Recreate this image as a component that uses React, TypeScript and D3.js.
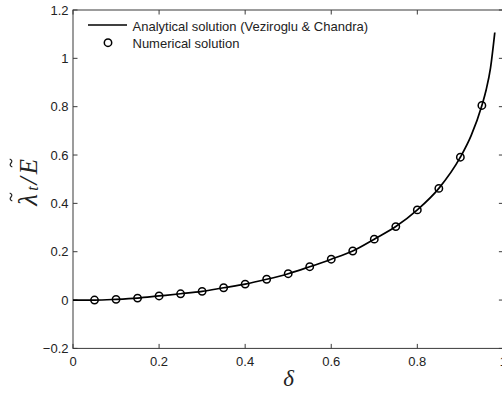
import React from "react";
import * as d3 from "d3";

const W = 502;
const H = 394;

// Numerical solution (circles)
const numDelta = [0.05, 0.1, 0.15, 0.2, 0.25, 0.3, 0.35, 0.4, 0.45, 0.5, 0.55, 0.6, 0.65, 0.7, 0.75, 0.8, 0.85, 0.9, 0.95];
const numValue = [0.0, 0.003, 0.008, 0.017, 0.026, 0.036, 0.051, 0.066, 0.086, 0.109, 0.138, 0.169, 0.203, 0.252, 0.304, 0.373, 0.462, 0.591, 0.805];

// Analytical solution (line)
const anaDelta = [0, 0.05, 0.1, 0.15, 0.2, 0.25, 0.3, 0.35, 0.4, 0.45, 0.5, 0.55, 0.6, 0.65, 0.7, 0.75, 0.8, 0.85, 0.9, 0.925, 0.95, 0.96, 0.97, 0.98];
const anaValue = [0, 0.0, 0.003, 0.008, 0.017, 0.026, 0.036, 0.051, 0.066, 0.086, 0.109, 0.138, 0.169, 0.203, 0.252, 0.304, 0.373, 0.462, 0.591, 0.68, 0.805, 0.87, 0.96, 1.107];

const xTicks = [0, 0.2, 0.4, 0.6, 0.8, 1];
const yTicks = [-0.2, 0, 0.2, 0.4, 0.6, 0.8, 1, 1.2];

const legendLabels = ["Analytical solution (Veziroglu & Chandra)", "Numerical solution"];

const TILDE = "M-4,1.3 C-3,-1.3 -1.5,-1.3 0,0 S3,1.3 4,-1.3";

export default function App() {
  const left = 73, right = 503.4, top = 10, bottom = 348.4;
  const x = d3.scaleLinear().domain([0, 1]).range([left, right]);
  const y = d3.scaleLinear().domain([-0.2, 1.2]).range([bottom, top]);

  const line = d3
    .line<number>()
    .x((_, i) => x(anaDelta[i]))
    .y((v) => y(v))
    .curve(d3.curveMonotoneX);

  const axisColor = "#3a3a3a";
  const textColor = "#222";
  const font = "'Liberation Sans', Arial, Helvetica, sans-serif";
  const serif = "'Liberation Serif', 'DejaVu Serif', serif";
  const tickLen = 4.5;

  const fmt = (v: number) => {
    const s = String(Math.round(v * 10) / 10);
    return s.startsWith("-") ? "\u2212" + s.slice(1) : s;
  };

  return (
    <svg
      width={W}
      height={H}
      style={{ position: "absolute", left: 0, top: 0, background: "#fff" }}
    >
      <rect x={0} y={0} width={W} height={H} fill="#fff" />
      {/* frame */}
      <rect x={left} y={top} width={right - left} height={bottom - top} fill="none" stroke={axisColor} strokeWidth={1} />
      {/* x ticks */}
      {xTicks.map((t) => (
        <g key={"xt" + t}>
          <line x1={x(t)} x2={x(t)} y1={bottom} y2={bottom - tickLen} stroke={axisColor} />
          <line x1={x(t)} x2={x(t)} y1={top} y2={top + tickLen} stroke={axisColor} />
          <text x={x(t)} y={365.5} textAnchor="middle" fontFamily={font} fontSize={13} fill={textColor}>
            {fmt(t)}
          </text>
        </g>
      ))}
      {/* y ticks */}
      {yTicks.map((t) => (
        <g key={"yt" + t}>
          <line x1={left} x2={left + tickLen} y1={y(t)} y2={y(t)} stroke={axisColor} />
          <line x1={right} x2={right - tickLen} y1={y(t)} y2={y(t)} stroke={axisColor} />
          <text x={68.5} y={y(t) + 4.6} textAnchor="end" fontFamily={font} fontSize={13} fill={textColor}>
            {fmt(t)}
          </text>
        </g>
      ))}
      {/* analytical line */}
      <path d={line(anaValue) || ""} fill="none" stroke="#000" strokeWidth={1.7} />
      {/* numerical circles */}
      {numValue.map((v, i) => (
        <circle key={"c" + i} cx={x(numDelta[i])} cy={y(v)} r={3.7} fill="none" stroke="#000" strokeWidth={1.5} />
      ))}
      {/* legend */}
      <line x1={88} x2={127} y1={25} y2={25} stroke="#000" strokeWidth={1.7} />
      <text x={132.5} y={30.6} fontFamily={font} fontSize={13} fill={textColor}>
        {legendLabels[0]}
      </text>
      <circle cx={108} cy={42.7} r={3.7} fill="none" stroke="#000" strokeWidth={1.5} />
      <text x={132.5} y={47.6} fontFamily={font} fontSize={13} fill={textColor}>
        {legendLabels[1]}
      </text>
      {/* x label */}
      <text x={288.5} y={386} textAnchor="middle" fontFamily={serif} fontStyle="italic" fontSize={23} fill={textColor}>
        δ
      </text>
      {/* y label: λ̃_t / Ẽ */}
      <g transform="translate(37, 181) rotate(-90)" fill={textColor} fontFamily={serif} fontStyle="italic">
        <text x={-19} y={0} textAnchor="middle" fontSize={27}>λ</text>
        <path d={TILDE} transform="translate(-16,-26)" fill="none" stroke={textColor} strokeWidth={1.2} />
        <text x={-7.5} y={1} textAnchor="middle" fontSize={16}>t</text>
        <text x={0} y={0} textAnchor="middle" fontSize={26}>/</text>
        <text x={14.5} y={0} textAnchor="middle" fontSize={25}>E</text>
        <path d={TILDE} transform="translate(18,-26)" fill="none" stroke={textColor} strokeWidth={1.2} />
      </g>
    </svg>
  );
}
